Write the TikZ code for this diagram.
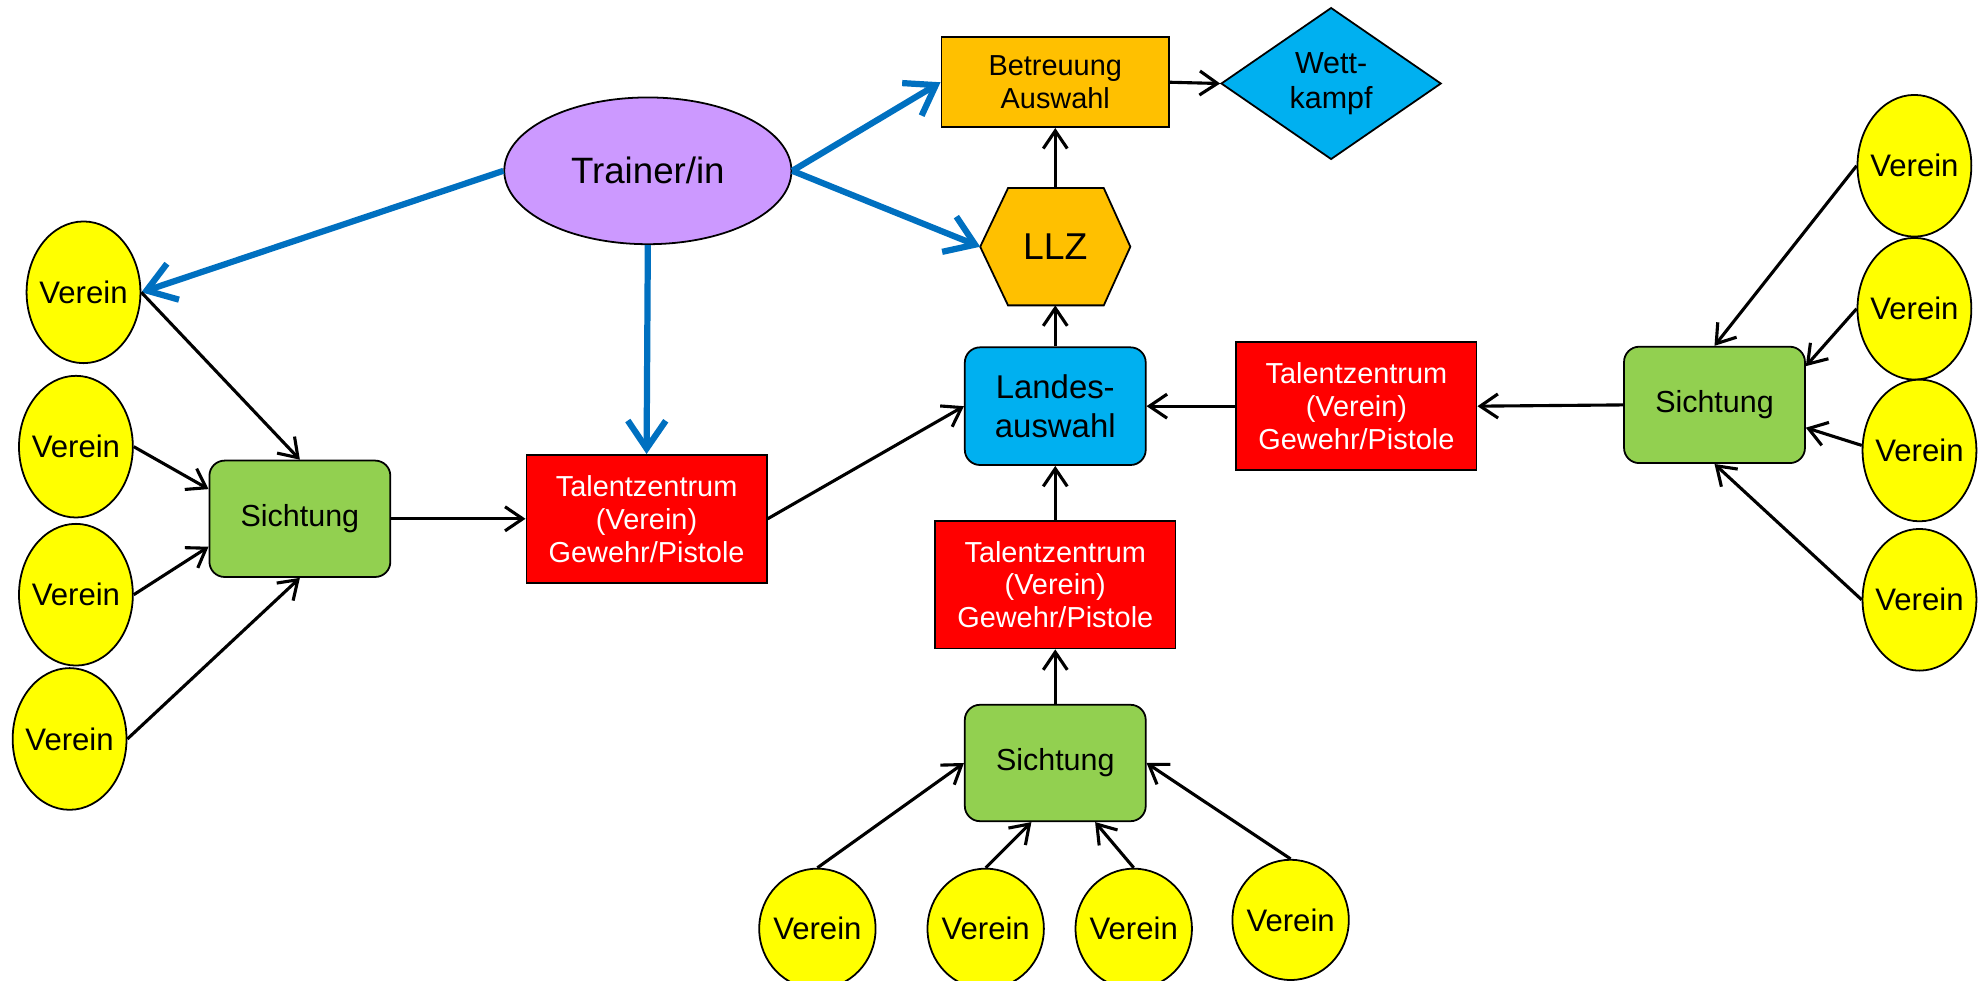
\documentclass[tikz,border=0pt]{standalone}
\usepackage{fontspec}
\setmainfont{Liberation Sans}
\usetikzlibrary{shapes.geometric,arrows.meta,backgrounds,calc}
\definecolor{cVerein}{HTML}{FFFF00}
\definecolor{cGreen}{HTML}{92D050}
\definecolor{cRed}{HTML}{FF0000}
\definecolor{cCyan}{HTML}{00B0F0}
\definecolor{cOrange}{HTML}{FFC000}
\definecolor{cTrainer}{HTML}{CC99FF}
\definecolor{cBlue}{HTML}{0070C0}
\newcommand{\zw}[1]{\makebox[0pt]{#1}}
\begin{document}
\begin{tikzpicture}[x=0.02cm,y=-0.02cm,
  verein/.style={ellipse, draw, line width=0.8pt, fill=cVerein, minimum width=1.8cm, minimum height=2.24cm, inner sep=0pt, font=\fontsize{14}{16}\selectfont},
  vereinb/.style={verein, minimum width=1.84cm, minimum height=1.9cm},
  sichtung/.style={rectangle, rounded corners=0.24cm, draw, line width=0.8pt, fill=cGreen, minimum width=2.86cm, minimum height=1.84cm, font=\fontsize{13.7}{16}\selectfont},
  talent/.style={rectangle, draw, line width=0.8pt, fill=cRed, text=white, minimum width=3.8cm, minimum height=2.02cm, align=center, font=\fontsize{13}{14.8}\selectfont},
  conn/.style={-{Straight Barb[length=0.28cm,width=0.38cm]}, line width=1.4pt},
  bluearrow/.style={-{Straight Barb[length=0.44cm,width=0.6cm]}, line width=2.8pt, draw=cBlue},
]
\useasboundingbox (0,0) rectangle (1568,775);

% top
\node[ellipse, draw, line width=0.8pt, fill=cTrainer, minimum width=4.54cm, minimum height=2.32cm, font=\fontsize{16.5}{19}\selectfont] (tr) at (512,135) {Trainer/in};
\node[rectangle, draw, line width=0.8pt, fill=cOrange, minimum width=3.6cm, minimum height=1.42cm, align=center, font=\fontsize{13}{14.8}\selectfont] (bet) at (834,65) {Betreuung\\Auswahl};
\node[diamond, draw, line width=0.8pt, fill=cCyan, minimum width=3.48cm, minimum height=2.4cm, aspect=1.45, inner sep=0pt, align=center, font=\fontsize{13.7}{16}\selectfont] (wk) at (1052,66) {Wett-\\kampf};
\node[rectangle, minimum width=2.36cm, minimum height=1.84cm, font=\fontsize{16.8}{19}\selectfont] (llz) at (834,195) {LLZ};
\begin{scope}[on background layer]
\draw[line width=0.8pt, fill=cOrange] (llz.west) -- ($(llz.north west)+(22,0)$) -- ($(llz.north east)+(-21,0)$) -- (llz.east) -- ($(llz.south east)+(-21,0)$) -- ($(llz.south west)+(22,0)$) -- cycle;
\end{scope}
\node[rectangle, rounded corners=0.24cm, draw, line width=0.8pt, fill=cCyan, minimum width=2.86cm, minimum height=1.86cm, align=center, font=\fontsize{14.8}{17.6}\selectfont] (la) at (834,321) {Landes-\\auswahl};

% talent centres and sichtung
\node[talent] (tL) at (511,410) {Talentzentrum\\(Verein)\\Gewehr/Pistole};
\node[talent] (tM) at (834,462) {Talentzentrum\\(Verein)\\Gewehr/Pistole};
\node[talent] (tR) at (1072,321) {Talentzentrum\\(Verein)\\Gewehr/Pistole};
\node[sichtung] (sL) at (237,410) {Sichtung};
\node[sichtung] (sB) at (834,603) {Sichtung};
\node[sichtung] (sR) at (1355,320) {Sichtung};

% Vereine
\node[verein] (vL1) at (66,231) {\zw{Verein}};
\node[verein] (vL2) at (60,353) {\zw{Verein}};
\node[verein] (vL3) at (60,470) {\zw{Verein}};
\node[verein] (vL4) at (55,584) {\zw{Verein}};
\node[verein] (vR1) at (1513,131) {\zw{Verein}};
\node[verein] (vR2) at (1513,244) {\zw{Verein}};
\node[verein] (vR3) at (1517,356) {\zw{Verein}};
\node[verein] (vR4) at (1517,474) {\zw{Verein}};
\node[vereinb] (vB1) at (646,734) {\zw{Verein}};
\node[vereinb] (vB2) at (779,734) {\zw{Verein}};
\node[vereinb] (vB3) at (896,734) {\zw{Verein}};
\node[vereinb] (vB4) at (1020,727) {\zw{Verein}};

% blue arrows
\draw[bluearrow] (tr.west) -- (vL1.east);
\draw[bluearrow] (tr.south) -- (tL.north);
\draw[bluearrow] (tr.east) -- (bet.west);
\draw[bluearrow] (tr.east) -- (llz.west);

% black connectors
\draw[conn] (llz.north) -- (bet.south);
\draw[conn] (bet.east) -- (wk.west);
\draw[conn] (la.north) -- (llz.south);
\draw[conn] (tL.east) -- (la.west);
\draw[conn] (tM.north) -- (la.south);
\draw[conn] (tR.west) -- (la.east);
\draw[conn] (sR.west) -- (tR.east);
\draw[conn] (sL.east) -- (tL.west);
\draw[conn] (sB.north) -- (tM.south);

\draw[conn] (vL1.east) -- (sL.north);
\draw[conn] (vL2.east) -- (sL.162);
\draw[conn] (vL3.east) -- (sL.197);
\draw[conn] (vL4.east) -- (sL.south);

\draw[conn] (vR1.west) -- (sR.north);
\draw[conn] (vR2.west) -- (sR.23);
\draw[conn] (vR3.175) -- (sR.-14);
\draw[conn] (vR4.west) -- (sR.south);

\draw[conn] (vB1.north) -- (sB.west);
\draw[conn] (vB2.north) -- (sB.-112);
\draw[conn] (vB3.north) -- (sB.-56);
\draw[conn] (vB4.north) -- (sB.east);
\end{tikzpicture}
\end{document}
